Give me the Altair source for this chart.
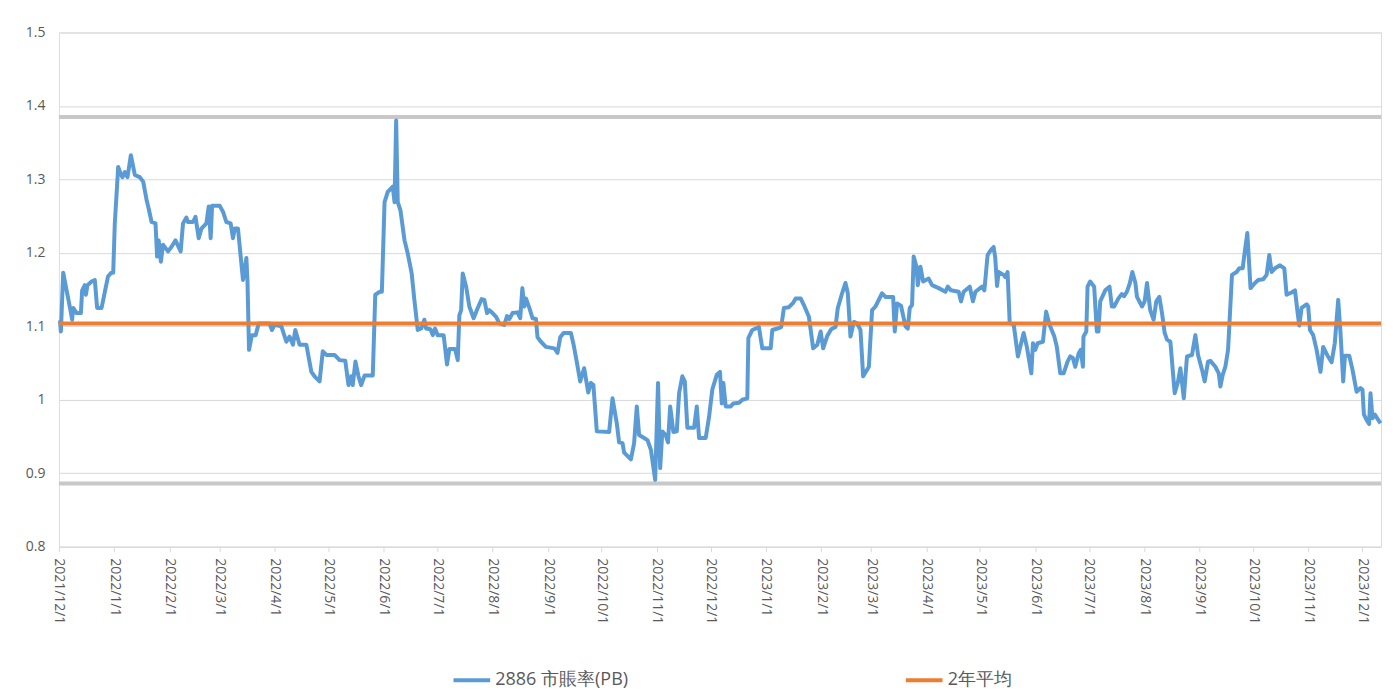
import altair as alt
import pandas as pd

# ---------------- data ----------------
start_date = "2021-12-01"
series_names = ["2886 市賬率(PB)", "2年平均"]
series_colors = ["#5B9BD5", "#ED7D31"]
avg_2y = 1.104
band_values = [1.385, 0.886]
y_ticks = [0.8, 0.9, 1.0, 1.1, 1.2, 1.3, 1.4, 1.5]

# days since 2021-12-01
day_offsets = [
    0.0, 0.6, 1.1, 2.4, 4.3, 6.2, 7.4, 8.0, 9.9, 12.3, 13.0, 14.5, 15.1, 16.0, 18.3, 20.1,
    21.4, 23.9, 27.5, 29.4, 30.4, 31.3, 33.2, 34.5, 35.6, 36.9, 38.4, 40.3, 42.5, 45.3,
    47.2, 49.1, 50.3, 51.9, 54.1, 55.0, 55.9, 57.1, 58.3, 61.1, 63.0, 65.3, 68.2, 69.5,
    71.4, 72.3, 75.1, 76.5, 78.3, 79.8, 82.6, 83.9, 85.0, 85.8, 90.1, 91.9, 93.8, 96.2,
    97.5, 98.5, 100.3, 103.1, 105.0, 105.6, 106.5, 108.1, 110.2, 111.9, 118.0, 119.3,
    120.8, 124.6, 127.4, 129.2, 131.1, 132.4, 134.8, 138.6, 141.4, 143.2, 146.0, 147.8,
    149.8, 154.4,
    157.2, 160.4, 162.2, 163.7, 164.6, 166.1, 167.8, 169.3, 171.2, 175.8, 177.2, 179.6,
    180.9, 182.4, 184.2, 187.0, 188.0, 188.9, 189.8, 191.3, 193.6, 195.4, 197.6, 199.1,
    201.0, 202.9, 204.7, 205.7, 208.1, 209.4, 210.7, 212.2, 215.5, 217.4, 218.7, 221.9,
    223.4, 224.3, 225.3, 226.2, 228.1, 229.9, 232.3, 234.6, 236.8, 238.3, 239.8, 241.1,
    242.9, 244.9, 246.7, 249.5, 251.0, 252.3, 254.1, 256.9, 258.4, 259.6, 260.7, 261.6,
    263.5, 265.3, 267.2, 268.1, 270.0, 272.8, 277.5, 279.3, 280.8, 282.7, 286.8, 288.3,
    290.2, 292.0, 294.2, 296.5, 298.0, 299.4,
    301.3, 308.2, 310.1, 312.5, 313.8, 315.7, 316.6, 320.4, 322.2, 323.7, 325.0, 327.8,
    329.7, 331.6, 334.0, 335.6, 336.8, 338.0, 339.9, 341.2, 342.4, 344.2, 346.1, 347.4,
    349.2, 350.6, 352.0, 355.8, 357.3, 358.6, 362.3, 364.2, 366.0, 368.5, 370.3, 371.3,
    372.2, 373.5, 376.3, 377.8, 381.0, 382.8, 385.6, 386.2, 388.4, 392.1, 394.0, 398.7,
    399.6, 402.4, 404.6, 406.1, 408.9, 411.3, 412.7, 415.5, 417.3, 420.1, 422.5, 424.8,
    426.7, 428.1, 430.4, 432.6, 435.0, 436.3, 438.7, 440.6, 441.9, 443.4, 445.3, 447.1,
    449.0, 450.5, 453.7, 455.5,
    457.4, 461.1, 463.0, 467.3, 468.2, 469.5, 471.7, 474.2, 475.5, 476.6, 477.9, 478.8,
    480.4, 481.1, 482.6, 484.1, 487.2, 489.1, 492.8, 496.6, 497.9, 499.7, 504.0, 505.3,
    506.8, 510.2, 512.0, 513.4, 517.1, 518.4, 520.2, 522.1, 523.6, 524.5, 525.5, 526.4,
    529.2, 530.1, 531.4, 532.6, 534.8, 537.2, 538.5, 540.4, 542.2, 544.7, 545.6, 546.9,
    548.2, 551.2, 553.0, 554.9, 557.6, 559.0, 560.9, 562.8, 565.0, 566.5, 568.0, 569.3,
    571.2, 572.4, 573.6, 573.9, 575.5, 576.2, 577.7, 579.9, 581.4, 582.3, 583.3, 586.1,
    588.5, 589.8, 591.1, 593.5, 595.4, 596.7, 598.2,
    599.8, 601.3, 603.0, 603.9, 606.7, 608.2, 609.5, 611.3, 613.2, 614.7, 616.4, 617.9,
    619.4, 620.7, 622.6, 625.0, 626.9, 628.2, 630.1, 631.9, 634.7, 636.6, 638.1, 640.3,
    641.8, 643.7, 645.0, 647.8, 649.7, 650.6, 651.9, 653.4, 654.9, 655.6, 657.1, 659.7,
    661.2, 663.1, 663.8, 665.7, 667.5, 670.0, 671.8, 674.6, 676.5, 678.0, 679.3, 681.2,
    684.0, 686.4, 687.7, 690.5, 692.4, 693.7, 694.8, 696.1, 698.9, 699.8, 700.8, 702.6,
    704.5, 706.7, 708.2, 710.4, 712.9, 714.7, 716.6, 717.9, 719.4, 720.4, 722.8, 724.6,
    726.9, 729.1, 730.2, 731.0, 732.4, 733.9, 734.7, 735.8, 737.1, 738.4, 740.3,
]

pb_values = [
    1.105, 1.106, 1.093, 1.173, 1.149, 1.125, 1.109, 1.125, 1.118, 1.118, 1.149, 1.156, 1.143, 1.156, 1.161, 1.163,
    1.125, 1.125, 1.168, 1.173, 1.173, 1.240, 1.317, 1.308, 1.303, 1.310, 1.303, 1.333, 1.306, 1.303,
    1.297, 1.272, 1.260, 1.242, 1.240, 1.195, 1.217, 1.188, 1.211, 1.202, 1.208, 1.217, 1.202, 1.240,
    1.248, 1.242, 1.242, 1.249, 1.220, 1.233, 1.240, 1.263, 1.220, 1.264, 1.264, 1.256, 1.242, 1.240,
    1.220, 1.233, 1.233, 1.163, 1.193, 1.163, 1.068, 1.088, 1.088, 1.104, 1.104, 1.095,
    1.102, 1.100, 1.079, 1.086, 1.075, 1.095, 1.075, 1.075, 1.038, 1.032, 1.025, 1.066,
    1.061, 1.061,
    1.054, 1.053, 1.020, 1.032, 1.020, 1.052, 1.032, 1.020, 1.033, 1.033, 1.143, 1.147,
    1.147, 1.269, 1.283, 1.290, 1.269, 1.380, 1.269, 1.258, 1.217, 1.199, 1.172, 1.136,
    1.095, 1.097, 1.109, 1.097, 1.096, 1.088, 1.097, 1.088, 1.088, 1.048, 1.069, 1.069,
    1.054, 1.115, 1.122, 1.172, 1.154, 1.127, 1.111, 1.125, 1.137, 1.136, 1.118, 1.122,
    1.118, 1.113, 1.104, 1.102, 1.114, 1.110, 1.118, 1.119, 1.111, 1.152, 1.127, 1.138,
    1.125, 1.111, 1.110, 1.085, 1.079, 1.072, 1.070, 1.064, 1.085, 1.091, 1.091, 1.075,
    1.050, 1.025, 1.043, 1.010, 1.023, 1.020,
    0.957, 0.956, 1.002, 0.968, 0.942, 0.941, 0.928, 0.919, 0.941, 0.991, 0.952, 0.948,
    0.945, 0.932, 0.891, 1.023, 0.907, 0.957, 0.952, 0.942, 0.991, 0.956, 0.957, 1.009,
    1.032, 1.025, 0.962, 0.962, 0.991, 0.948, 0.948, 0.977, 1.014, 1.034, 1.038, 0.995,
    1.023, 0.991, 0.991, 0.995, 0.996, 1.000, 1.002, 1.084, 1.095, 1.099, 1.070, 1.070,
    1.095, 1.097, 1.099, 1.125, 1.126, 1.132, 1.138, 1.138, 1.129, 1.113, 1.070, 1.075,
    1.093, 1.070, 1.087, 1.096, 1.099, 1.125, 1.145, 1.159, 1.145, 1.086, 1.106, 1.104,
    1.095, 1.032, 1.045, 1.122,
    1.127, 1.145, 1.140, 1.140, 1.093, 1.131, 1.128, 1.100, 1.097, 1.125, 1.129, 1.195,
    1.181, 1.156, 1.181, 1.161, 1.165, 1.156, 1.152, 1.147, 1.154, 1.149, 1.147, 1.134,
    1.147, 1.154, 1.134, 1.147, 1.154, 1.149, 1.197, 1.204, 1.208, 1.193, 1.155, 1.174,
    1.170, 1.167, 1.174, 1.104, 1.103, 1.059, 1.072, 1.091, 1.072, 1.036, 1.077, 1.068,
    1.077, 1.079, 1.120, 1.102, 1.086, 1.072, 1.036, 1.036, 1.052, 1.059, 1.057, 1.045,
    1.063, 1.068, 1.045, 1.086, 1.093, 1.154, 1.161, 1.154, 1.093, 1.093, 1.134, 1.149,
    1.154, 1.127, 1.127, 1.138, 1.144, 1.141, 1.147,
    1.158, 1.174, 1.159, 1.140, 1.127, 1.134, 1.159, 1.122, 1.109, 1.134, 1.140, 1.118,
    1.091, 1.082, 1.079, 1.009, 1.025, 1.043, 1.002, 1.059, 1.061, 1.088, 1.061, 1.041,
    1.025, 1.052, 1.053, 1.045, 1.036, 1.018, 1.034, 1.045, 1.068, 1.100, 1.170, 1.174,
    1.179, 1.179, 1.193, 1.227, 1.152, 1.159, 1.163, 1.164, 1.170, 1.197, 1.174, 1.179,
    1.183, 1.179, 1.143, 1.146, 1.149, 1.122, 1.101, 1.125, 1.130, 1.127, 1.095, 1.088,
    1.068, 1.038, 1.072, 1.061, 1.051, 1.077, 1.136, 1.091, 1.025, 1.060, 1.060, 1.041,
    1.011, 1.016, 1.014, 0.980, 0.973, 0.967, 1.009, 0.975, 0.980, 0.975, 0.968,
]

# ---------------- frames ----------------
base_ts = pd.Timestamp(start_date)
dates = [(base_ts + pd.Timedelta(days=d)).strftime("%Y-%m-%dT%H:%M:%S") for d in day_offsets]
pb_df = pd.DataFrame({"date": dates, "pb": pb_values, "series": series_names[0]})
avg_df = pd.DataFrame({"y": [avg_2y], "series": [series_names[1]]})
band_df = pd.DataFrame({"y": band_values})

label_color = "#595959"
font = "Open Sans"

x_scale = alt.Scale(
    domain=[alt.DateTime(year=2021, month=12, date=1),
            alt.DateTime(year=2023, month=12, date=11, hours=14)],
    nice=False,
)
y_scale = alt.Scale(domain=[0.8, 1.5], nice=False, zero=False)
color_scale = alt.Scale(domain=series_names, range=series_colors)

x_axis = alt.Axis(
    title=None, format="%Y/%-m/%-d", tickCount={"interval": "month", "step": 1},
    labelAngle=90, labelColor=label_color, labelFontSize=14, labelFont=font,
    labelPadding=6, grid=False, domainColor="#d9d9d9", tickColor="#d9d9d9",
    tickSize=5, labelOverlap=False,
)
y_axis = alt.Axis(
    title=None, values=y_ticks, format="~g", labelColor=label_color, labelFontSize=14,
    labelFont=font, labelPadding=14, domain=False, ticks=False, grid=True,
    gridColor="#d9d9d9", gridWidth=1, minExtent=46,
)

bands = alt.Chart(band_df).mark_rule(strokeWidth=4, color="#c8c8c8").encode(
    y=alt.Y("y:Q", scale=y_scale, axis=y_axis)
)

line = alt.Chart(pb_df).mark_line(strokeWidth=4, strokeJoin="round").encode(
    x=alt.X("date:T", scale=x_scale, axis=x_axis),
    y=alt.Y("pb:Q", scale=y_scale, axis=y_axis),
    color=alt.Color(
        "series:N", scale=color_scale, sort=series_names,
        legend=alt.Legend(
            title=None, orient="none", legendX=393, legendY=628, direction="horizontal",
            symbolType="stroke", symbolSize=1350, symbolStrokeWidth=4,
            labelFontSize=18, labelColor=label_color, labelFont=font,
            columnPadding=270, labelOffset=3,
        ),
    ),
)

avg_rule = alt.Chart(avg_df).mark_rule(strokeWidth=4).encode(
    y=alt.Y("y:Q", scale=y_scale),
    color=alt.Color("series:N", scale=color_scale, sort=series_names),
)

chart = alt.layer(bands, line, avg_rule).properties(
    width=1324, height=515,
    padding={"left": 5, "top": 17, "right": 5, "bottom": 5},
).configure_view(stroke=None).configure(font=font)

chart.save("out.html", embed_options={"renderer": "svg", "actions": False})
